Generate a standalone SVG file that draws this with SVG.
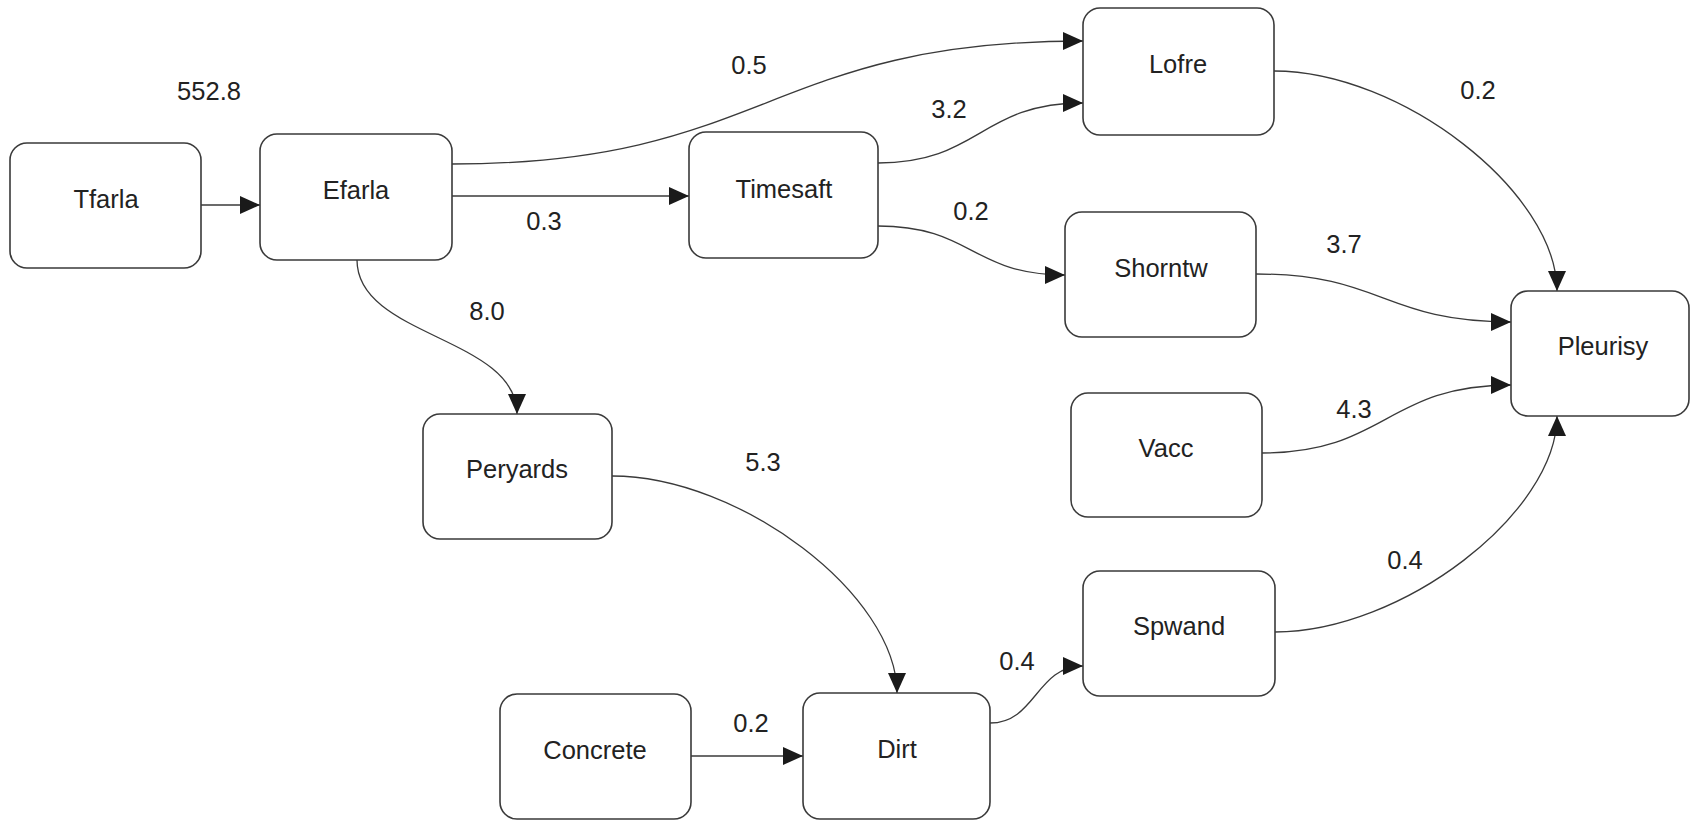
<svg xmlns="http://www.w3.org/2000/svg" width="1691" height="820" viewBox="0 0 1691 820">
  <defs>
    <marker id="arrow" markerUnits="userSpaceOnUse" markerWidth="20" markerHeight="18" refX="20" refY="9" orient="auto">
      <path d="M0,0 L20,9 L0,18 z" fill="#1a1a1a"/>
    </marker>
    <style>
      .node rect { fill: #ffffff; stroke: #3a3a3a; stroke-width: 1.6; }
      .node text, .label { font-family: "Liberation Sans", Arial, sans-serif; font-size: 25.5px; fill: #222222; text-anchor: middle; }
      .label { paint-order: stroke; stroke: #ffffff; stroke-width: 4px; }
      .edge { fill: none; stroke: #3a3a3a; stroke-width: 1.3; marker-end: url(#arrow); }
    </style>
  </defs>
  <rect x="0" y="0" width="1691" height="820" fill="#ffffff"/>

  <!-- connectors -->
  <g id="connectors">
    <path class="edge" d="M201,205 L260,205"/>
    <path class="edge" d="M452,196 L689,196"/>
    <path class="edge" d="M452,164 C767,164 767,41 1083,41"/>
    <path class="edge" d="M878,163 C980,163 980,103 1083,103"/>
    <path class="edge" d="M878,226 C972,226 972,275 1065,275"/>
    <path class="edge" d="M357,260 C357,337 517,337 517,414"/>
    <path class="edge" d="M1274,71 C1401,71 1557,192 1557,291"/>
    <path class="edge" d="M1256,274 C1383,274 1383,322 1511,322"/>
    <path class="edge" d="M1262,453 C1386,453 1386,385 1511,385"/>
    <path class="edge" d="M1275,632 C1402,632 1557,513 1557,416"/>
    <path class="edge" d="M612,476 C740,476 897,595 897,693"/>
    <path class="edge" d="M691,756 L803,756"/>
    <path class="edge" d="M990,723 C1036,723 1036,666 1083,666"/>

    <text class="label" x="209" y="100">552.8</text>
    <text class="label" x="749" y="74">0.5</text>
    <text class="label" x="544" y="230">0.3</text>
    <text class="label" x="949" y="118">3.2</text>
    <text class="label" x="971" y="220">0.2</text>
    <text class="label" x="1478" y="99">0.2</text>
    <text class="label" x="1344" y="253">3.7</text>
    <text class="label" x="1354" y="418">4.3</text>
    <text class="label" x="1405" y="569">0.4</text>
    <text class="label" x="487" y="320">8.0</text>
    <text class="label" x="763" y="471">5.3</text>
    <text class="label" x="751" y="732">0.2</text>
    <text class="label" x="1017" y="670">0.4</text>
  </g>

  <!-- nodes -->
  <g id="tfarla" class="node"><rect x="10" y="143" width="191" height="125" rx="17"/><text x="106" y="208">Tfarla</text></g>
  <g id="efarla" class="node"><rect x="260" y="134" width="192" height="126" rx="17"/><text x="356" y="199">Efarla</text></g>
  <g id="timesaft" class="node"><rect x="689" y="132" width="189" height="126" rx="17"/><text x="784" y="198">Timesaft</text></g>
  <g id="lofre" class="node"><rect x="1083" y="8" width="191" height="127" rx="17"/><text x="1178" y="73">Lofre</text></g>
  <g id="shorntw" class="node"><rect x="1065" y="212" width="191" height="125" rx="17"/><text x="1161" y="277">Shorntw</text></g>
  <g id="pleurisy" class="node"><rect x="1511" y="291" width="178" height="125" rx="17"/><text x="1603" y="355">Pleurisy</text></g>
  <g id="vacc" class="node"><rect x="1071" y="393" width="191" height="124" rx="17"/><text x="1166" y="457">Vacc</text></g>
  <g id="spwand" class="node"><rect x="1083" y="571" width="192" height="125" rx="17"/><text x="1179" y="635">Spwand</text></g>
  <g id="peryards" class="node"><rect x="423" y="414" width="189" height="125" rx="17"/><text x="517" y="478">Peryards</text></g>
  <g id="concrete" class="node"><rect x="500" y="694" width="191" height="125" rx="17"/><text x="595" y="759">Concrete</text></g>
  <g id="dirt" class="node"><rect x="803" y="693" width="187" height="126" rx="17"/><text x="897" y="758">Dirt</text></g>
</svg>
